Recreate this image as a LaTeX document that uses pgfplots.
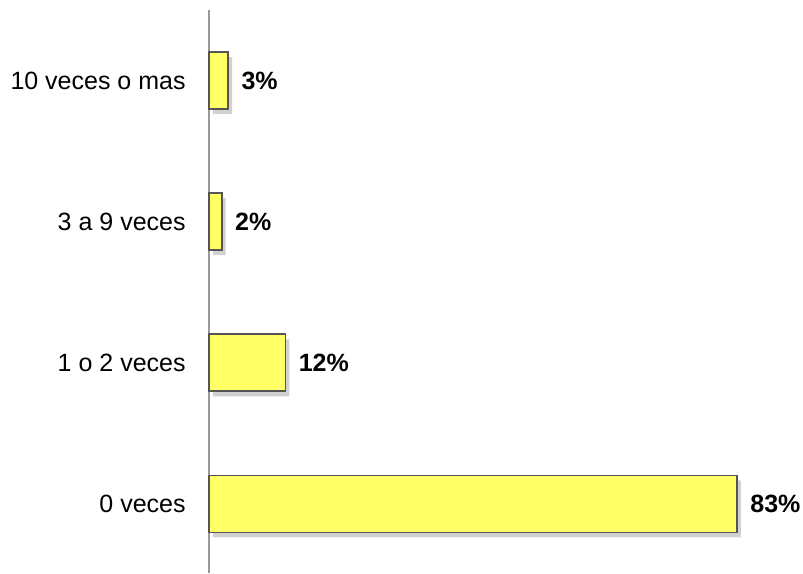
\documentclass[border=0pt]{standalone}
\usepackage{pgfplots}
\pgfplotsset{compat=1.18}
\usepackage{fontspec}
\setmainfont{Liberation Sans}
\definecolor{baryellow}{HTML}{FFFF66}
\definecolor{barborder}{HTML}{555555}
\definecolor{axisgray}{HTML}{999999}
\begin{document}
\begin{tikzpicture}[x=1pt,y=1pt]
\begin{axis}[
    at={(0,0)}, anchor=south west,
    scale only axis,
    width=290.5pt, height=281.5pt,
    xbar, bar width=28.5pt,
    xmin=0, xmax=91.35,
    ymin=-0.49, ymax=3.5,
    axis x line=none,
    axis y line*=left,
    axis line style={axisgray, line width=0.6pt},
    ytick={0,1,2,3},
    yticklabels={0 veces,1 o 2 veces,3 a 9 veces,10 veces o mas},
    major tick length=0pt,
    yticklabel style={font=\fontsize{12.5}{15}\selectfont, inner sep=0pt, xshift=-11.5pt},
    /pgf/number format/assume math mode=true,
    nodes near coords={\pgfmathprintnumber{\pgfplotspointmeta}\%},
    every node near coord/.append style={font=\fontsize{12.5}{15}\selectfont\bfseries, anchor=west, xshift=3pt},
    clip=false,
    ]
\addplot[fill=baryellow, draw=barborder, line width=0.8pt,
    preaction={fill=black, fill opacity=0.18, draw=none,
      transform canvas={xshift=2pt, yshift=-2.5pt}}]
    coordinates {(83,0) (12,1) (2,2) (3,3)};
\end{axis}
\pgfresetboundingbox
\path (-104.5,0) rectangle (297,286.5);
\end{tikzpicture}
\end{document}
